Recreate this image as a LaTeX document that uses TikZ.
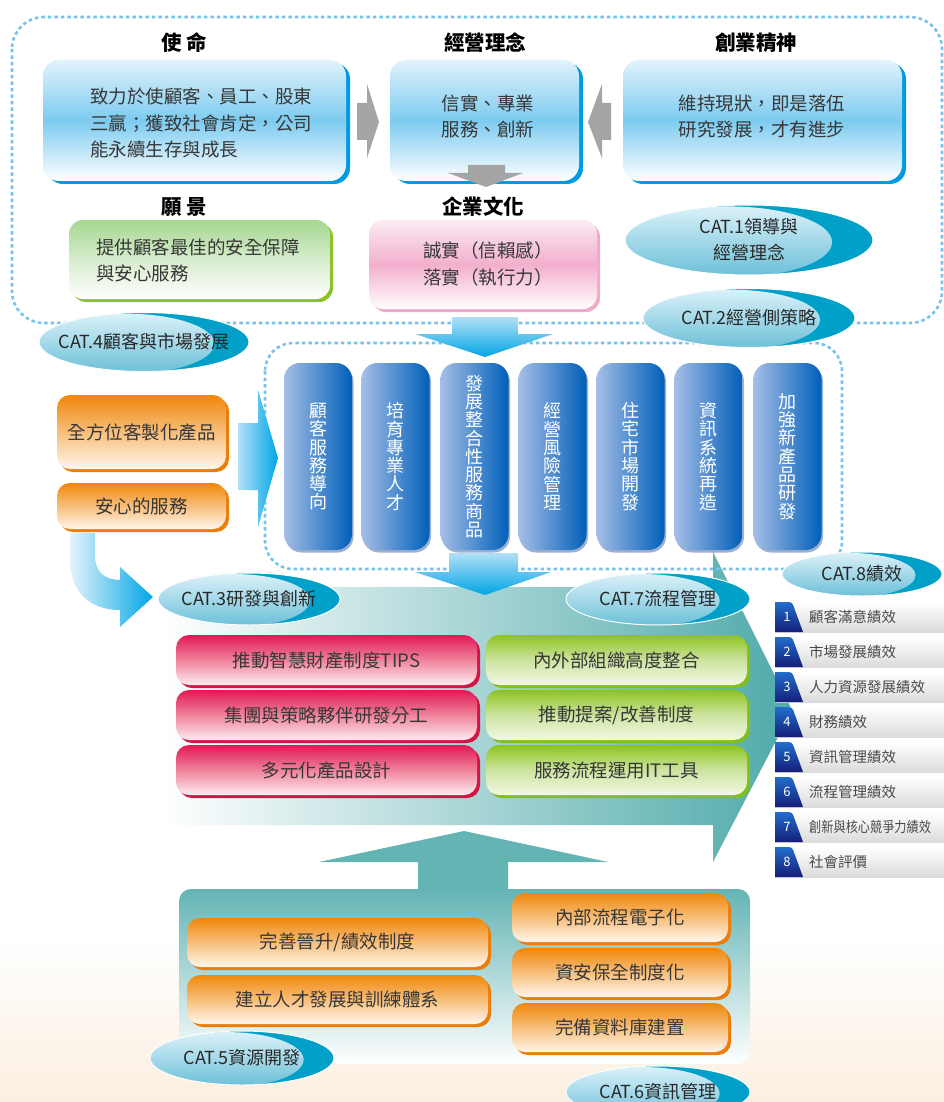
\documentclass[tikz,border=0pt]{standalone}
\usepackage{fontspec}
\setmainfont{Noto Sans CJK TC}
\usetikzlibrary{shadows}
\definecolor{dashblue}{RGB}{120,195,235}
\definecolor{txtgray}{RGB}{55,55,55}
\definecolor{bluerim}{RGB}{0,155,225}
\definecolor{bluetop}{RGB}{225,243,251}
\definecolor{bluemid}{RGB}{125,203,240}
\definecolor{greenrim}{RGB}{140,195,40}
\definecolor{greentop}{RGB}{165,215,145}
\definecolor{greenmid}{RGB}{215,236,205}
\definecolor{pinkrim}{RGB}{240,170,200}
\definecolor{pinktop}{RGB}{252,236,243}
\definecolor{pinkmid}{RGB}{242,175,205}
\definecolor{orangerim}{RGB}{235,125,10}
\definecolor{orangetop}{RGB}{240,135,10}
\definecolor{orangebot}{RGB}{255,246,236}
\definecolor{redrim}{RGB}{210,20,70}
\definecolor{redtop}{RGB}{225,25,85}
\definecolor{redbot}{RGB}{253,236,240}
\definecolor{lgreenrim}{RGB}{130,190,30}
\definecolor{lgreentop}{RGB}{140,195,30}
\definecolor{lgreenbot}{RGB}{242,248,228}
\definecolor{pilllight}{RGB}{165,190,230}
\definecolor{pilldark}{RGB}{0,95,185}
\definecolor{pillshadow}{RGB}{40,80,150}
\definecolor{cyanarrow}{RGB}{0,165,230}
\definecolor{lightarrow}{RGB}{178,224,246}
\definecolor{tealc}{RGB}{100,180,180}
\definecolor{tealdeep}{RGB}{80,170,170}
\definecolor{catdark}{RGB}{0,160,200}
\definecolor{catlight}{RGB}{218,241,249}
\definecolor{catmid}{RGB}{105,190,215}
\definecolor{cattxt}{RGB}{40,40,40}
\definecolor{graya}{RGB}{165,165,165}
\definecolor{badgetop}{RGB}{35,110,205}
\definecolor{badgebot}{RGB}{20,30,120}
\definecolor{perftxt}{RGB}{75,75,75}
\definecolor{beige}{RGB}{251,239,224}
\newcommand\catell[6]{%
  \begin{scope}
    \clip (#2,#3) ellipse [x radius=#4, y radius=#5];
    \fill[catdark] (#2,#3) ellipse [x radius=#4, y radius=#5];
    \shade[top color=catlight, bottom color=catmid] ({#2-0.17*#4},{#3+0.06*#5}) ellipse [x radius={0.84*#4}, y radius={1.02*#5}];
  \end{scope}
  \draw[white, line width=1pt] (#2,#3) ellipse [x radius=#4, y radius=#5];
  \node[cattext] (#1) at (#2,#3) {#6};
}
\begin{document}
\begin{tikzpicture}[x=1pt,y=-1pt,
  every node/.style={text=txtgray, inner sep=0pt},
  body/.style={font=\fontsize{18.5}{26.5}\selectfont},
  heading/.style={font=\fontsize{20.5}{24}\selectfont\bfseries, text=black},
  cattext/.style={font=\fontsize{18}{26}\selectfont, text=cattxt, align=center},
  dashbox/.style={draw=dashblue, line width=2.6pt, dash pattern=on 3.5pt off 3pt, rounded corners=32pt},
  topblue/.style={rounded corners=16pt, top color=bluetop, bottom color=white, middle color=bluemid,
    drop shadow={fill=bluerim,opacity=1,shadow xshift=4pt,shadow yshift=-3pt}},
  visionbox/.style={rounded corners=14pt, top color=greentop, bottom color=white, middle color=greenmid,
    drop shadow={fill=greenrim,opacity=1,shadow xshift=3pt,shadow yshift=-3pt}},
  culturebox/.style={rounded corners=14pt, top color=pinktop, bottom color=white, middle color=pinkmid,
    drop shadow={fill=pinkrim,opacity=1,shadow xshift=3pt,shadow yshift=-3pt}},
  orangebox/.style={rounded corners=13pt, top color=orangetop, bottom color=orangebot, body,
    drop shadow={fill=orangerim,opacity=1,shadow xshift=3pt,shadow yshift=-3pt}},
  redbox/.style={rounded corners=13pt, top color=redtop, bottom color=redbot, middle color={rgb,255:red,240;green,130;blue,155}, body,
    drop shadow={fill=redrim,opacity=1,shadow xshift=3pt,shadow yshift=-3pt}},
  greenbox/.style={rounded corners=13pt, top color=lgreentop, bottom color=lgreenbot, middle color={rgb,255:red,205;green,228;blue,160}, body,
    drop shadow={fill=lgreenrim,opacity=1,shadow xshift=3pt,shadow yshift=-3pt}},
  pill/.style={rounded corners=16pt, left color=pilllight, right color=pilldark, text=white,
    minimum width=68pt, minimum height=187pt, align=center, font=\fontsize{18}{18.3}\selectfont,
    drop shadow={fill=pillshadow,opacity=0.45,shadow xshift=1.5pt,shadow yshift=-2.5pt}},
  grayarrow/.style={fill=graya},
  bluearrowv/.style={top color=lightarrow, bottom color=cyanarrow},
  bluearrowh/.style={left color=lightarrow, right color=cyanarrow},
  perf/.style={font=\fontsize{14.5}{16}\selectfont, text=perftxt, anchor=west},
  num/.style={font=\fontsize{13}{14}\selectfont, text=white}
]
\useasboundingbox (0,0) rectangle (944,1102);
\fill[white] (0,0) rectangle (944,1102);
\shade[top color=white, bottom color=beige] (0,940) rectangle (944,1102);

% big teal arrow
\shade[left color=white, right color=tealdeep] (160,587) -- (713,587) -- (713,552) -- (792,710) -- (713,862) -- (713,825) -- (160,825) -- cycle;

% dashed frames
\draw[dashbox] (12,17) rectangle (942,323);
\draw[dashbox, rounded corners=28pt] (265,343) rectangle (842,569);

% headings
\node[heading] (hmission) at (184,43) {使 命};
\node[heading] (hphil) at (485,43) {經營理念};
\node[heading] (hspirit) at (756,43) {創業精神};
\node[heading] (hvision) at (184,207) {願 景};
\node[heading] (hculture) at (483,207) {企業文化};

% top boxes
\node[topblue, minimum width=303pt, minimum height=121pt] (missionbox) at (194.5,120.5) {};
\node[body, align=left, anchor=west] (missiontxt) at (90,123) {致力於使顧客、員工、股東\\三贏；獲致社會肯定，公司\\能永續生存與成長};
\node[topblue, minimum width=189pt, minimum height=121pt] (philbox) at (484.5,120.5) {};
\node[body, align=center] (philtxt) at (488,116.5) {信實、專業\\服務、創新};
\node[topblue, minimum width=279pt, minimum height=121pt] (spiritbox) at (762.5,120.5) {};
\node[body, align=center] (spirittxt) at (762,116.5) {維持現狀，即是落伍\\研究發展，才有進步};

\node[visionbox, minimum width=261pt, minimum height=79pt] (visionbox) at (199.5,259.5) {};
\node[body, align=left, anchor=west] (visiontxt) at (96,260.5) {提供顧客最佳的安全保障\\與安心服務};
\node[culturebox, minimum width=228pt, minimum height=89pt] (culturebox) at (483,264.5) {};
\node[body, align=center] (culturetxt) at (488,264) {誠實（信賴感）\\落實（執行力）};

% gray arrows
\fill[grayarrow] (357,103) -- (367,103) -- (367,84) -- (379,122) -- (367,158) -- (367,140) -- (357,140) -- cycle;
\fill[grayarrow] (611,103) -- (602,103) -- (602,84) -- (588,122) -- (602,158) -- (602,140) -- (611,140) -- cycle;
\fill[grayarrow] (468,165) -- (505,165) -- (505,173) -- (523,173) -- (486,187) -- (448,173) -- (468,173) -- cycle;

% blue arrows
\shade[bluearrowv] (452,317) -- (518,317) -- (518,334) -- (553,334) -- (485,357) -- (415,334) -- (452,334) -- cycle;
\shade[bluearrowh] (238,423) -- (258,423) -- (258,390) -- (278,458) -- (258,527) -- (258,490) -- (238,490) -- cycle;

% left orange boxes
\node[orangebox, minimum width=169pt, minimum height=74pt] (custom) at (141.5,432) {全方位客製化產品};
\node[orangebox, minimum width=169pt, minimum height=46pt] (safe) at (141.5,506) {安心的服務};
\shade[left color={rgb,255:red,228;green,244;blue,252}, right color=cyanarrow]
  (70,533) -- (95,533) -- (95,556) .. controls (95,572) and (105,580) .. (120,580) -- (120,567) -- (153,597) -- (120,627) -- (120,610) .. controls (88,610) and (70,590) .. (70,560) -- cycle;

% pills
\node[pill] (p1) at (318,456.5) {顧\\客\\服\\務\\導\\向};
\node[pill] (p2) at (395.5,456.5) {培\\育\\專\\業\\人\\才};
\node[pill] (p3) at (474.5,456.5) {發\\展\\整\\合\\性\\服\\務\\商\\品};
\node[pill] (p4) at (552.5,456.5) {經\\營\\風\\險\\管\\理};
\node[pill] (p5) at (630.5,456.5) {住\\宅\\市\\場\\開\\發};
\node[pill] (p6) at (708.5,456.5) {資\\訊\\系\\統\\再\\造};
\node[pill] (p7) at (787.5,456.5) {加\\強\\新\\產\\品\\研\\發};

\shade[bluearrowv] (449,553) -- (518,553) -- (518,572) -- (551,572) -- (485,595) -- (415,572) -- (449,572) -- cycle;

% red / green boxes
\node[redbox, minimum width=301pt, minimum height=50pt] (r1) at (326.5,660) {推動智慧財產制度TIPS};
\node[redbox, minimum width=301pt, minimum height=50pt] (r2) at (326.5,715) {集團與策略夥伴研發分工};
\node[redbox, minimum width=301pt, minimum height=50pt] (r3) at (326.5,770) {多元化產品設計};
\node[greenbox, minimum width=261pt, minimum height=50pt] (g1) at (616.5,660) {內外部組織高度整合};
\node[greenbox, minimum width=261pt, minimum height=50pt] (g2) at (616.5,715) {推動提案/改善制度};
\node[greenbox, minimum width=261pt, minimum height=50pt] (g3) at (616.5,770) {服務流程運用IT工具};

% lower block
\shade[top color=tealc, bottom color=white, rounded corners=12pt] (179,889) rectangle (750,1064);
\fill[tealc] (418,891) -- (418,862) -- (319,862) -- (464,831) -- (608,862) -- (508,862) -- (508,891) -- cycle;
\node[orangebox, minimum width=301pt, minimum height=49pt] (o1) at (337.5,942.5) {完善晉升/績效制度};
\node[orangebox, minimum width=301pt, minimum height=49pt] (o2) at (337.5,999.5) {建立人才發展與訓練體系};
\node[orangebox, minimum width=216pt, minimum height=49pt] (o3) at (620,917.5) {內部流程電子化};
\node[orangebox, minimum width=216pt, minimum height=49pt] (o4) at (620,972.5) {資安保全制度化};
\node[orangebox, minimum width=216pt, minimum height=49pt] (o5) at (620,1027.5) {完備資料庫建置};

% CAT ellipses
\catell{cat1}{749}{240}{124}{35}{CAT.1領導與\\經營理念}
\catell{cat2}{749}{318}{106}{29.5}{CAT.2經營側策略}
\catell{cat4}{144}{342}{105}{29.5}{CAT.4顧客與市場發展}
\catell{cat3}{249}{599}{91}{26}{CAT.3研發與創新}
\catell{cat7}{658}{599}{92}{26}{CAT.7流程管理}
\catell{cat8}{862}{574}{80}{22}{CAT.8績效}
\catell{cat5}{242}{1058}{92}{27}{CAT.5資源開發}
\catell{cat6}{658}{1092}{92}{26}{CAT.6資訊管理}

% performance list
\foreach \i/\t in {1/顧客滿意績效,2/市場發展績效,3/人力資源發展績效,4/財務績效,5/資訊管理績效,6/流程管理績效,7/{\scalebox{0.84}[1]{創新與核心競爭力績效}},8/社會評價}{
  \pgfmathsetmacro\yt{602+35*(\i-1)}
  \shade[top color=white, bottom color=black!14] (775,\yt) rectangle (944,{\yt+30});
  \shade[top color=badgetop, bottom color=badgebot, rounded corners=3pt] (775,\yt) -- (792,\yt) [sharp corners] -- (803,{\yt+30}) -- (775,{\yt+30}) -- cycle;
  \node[num] (n\i) at (787,{\yt+15}) {\i};
  \node[perf] (perf\i) at (809,{\yt+15}) {\t};
}
\end{tikzpicture}
\end{document}
